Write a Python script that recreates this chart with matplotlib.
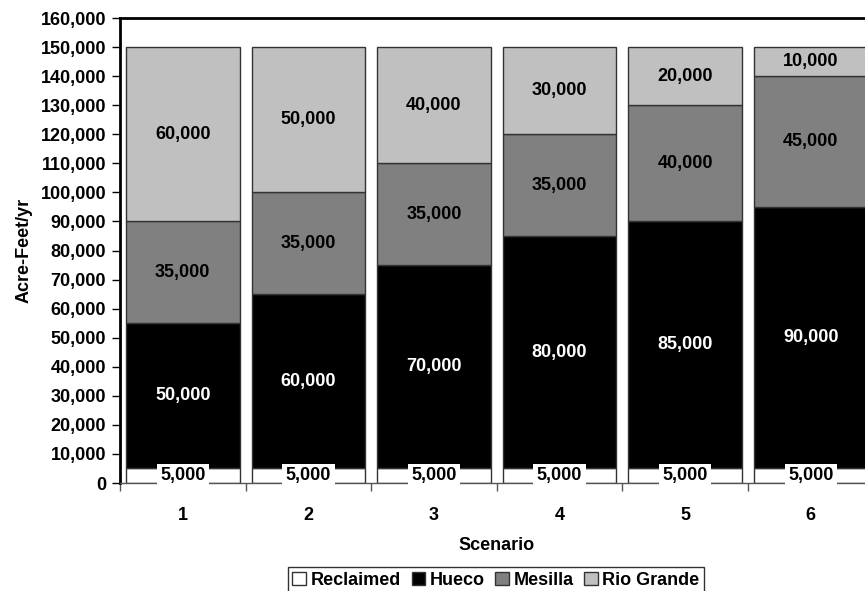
import numpy as np
import matplotlib.pyplot as plt
from matplotlib.ticker import FuncFormatter

plt.rcParams['font.family'] = ['Liberation Sans', 'DejaVu Sans']
plt.rcParams['font.weight'] = 'bold'

# Dữ liệu
scenarios = ['1', '2', '3', '4', '5', '6']
reclaimed = [5000, 5000, 5000, 5000, 5000, 5000]
hueco = [50000, 60000, 70000, 80000, 85000, 90000]
mesilla = [35000, 35000, 35000, 35000, 40000, 45000]
rio_grande = [60000, 50000, 40000, 30000, 20000, 10000]

series = [('Reclaimed', reclaimed, '#FFFFFF', 'black'),
          ('Hueco', hueco, '#000000', 'white'),
          ('Mesilla', mesilla, '#808080', 'black'),
          ('Rio Grande', rio_grande, '#C0C0C0', 'black')]

fig = plt.figure(figsize=(8.65, 5.91), dpi=100)
ax = fig.add_axes([120 / 865, 108 / 591, 753.6 / 865, 465 / 591])

x = np.arange(1, len(scenarios) + 1)
bottom = np.zeros(len(scenarios))
for name, vals, color, tcolor in series:
    vals = np.array(vals)
    ax.bar(x, vals, width=0.905, bottom=bottom, color=color,
           edgecolor='#333333', linewidth=1, label=name, zorder=2)
    for xi, b, v in zip(x, bottom, vals):
        if name == 'Reclaimed':
            ax.text(xi, b + v / 2, f'{v:,}', ha='center', va='center',
                    fontsize=13, color=tcolor, zorder=5, clip_on=False,
                    bbox=dict(facecolor='white', edgecolor='none', pad=2.5))
        else:
            ax.text(xi, b + v / 2, f'{v:,}', ha='center', va='center',
                    fontsize=13, color=tcolor, zorder=4)
    bottom += vals

ax.set_xlim(0.5, 6.5)
ax.set_ylim(0, 160000)
ax.set_yticks(np.arange(0, 160001, 10000))
ax.yaxis.set_major_formatter(FuncFormatter(lambda v, p: f'{int(v):,}'))
ax.set_xticks(x)
ax.set_xticklabels(scenarios)
ax.set_xticks(np.arange(0.5, 7, 1), minor=True)
ax.tick_params(axis='x', which='major', length=0, pad=17, labelsize=13)
ax.tick_params(axis='x', which='minor', length=6, width=1, color='#555555')
ax.tick_params(axis='y', length=6, width=1, labelsize=13, pad=4)

for s in ['left', 'top']:
    ax.spines[s].set_linewidth(2)
ax.spines['bottom'].set_color('#555555')
ax.spines['bottom'].set_linewidth(1)
ax.spines['right'].set_visible(False)

ax.set_xlabel('Scenario', fontsize=13, fontweight='bold', labelpad=10)
ax.set_ylabel('Acre-Feet/yr', fontsize=13, fontweight='bold', labelpad=6)

leg = fig.legend(loc='upper center', bbox_to_anchor=(496 / 865, 1 - 567 / 591),
                 ncol=4, fontsize=13, frameon=True, fancybox=False,
                 handlelength=0.75, handleheight=0.75, handletextpad=0.25,
                 columnspacing=0.6, borderpad=0.25, borderaxespad=0)
leg.get_frame().set_edgecolor('black')
leg.get_frame().set_linewidth(1)

plt.savefig('out.png', dpi=100)
